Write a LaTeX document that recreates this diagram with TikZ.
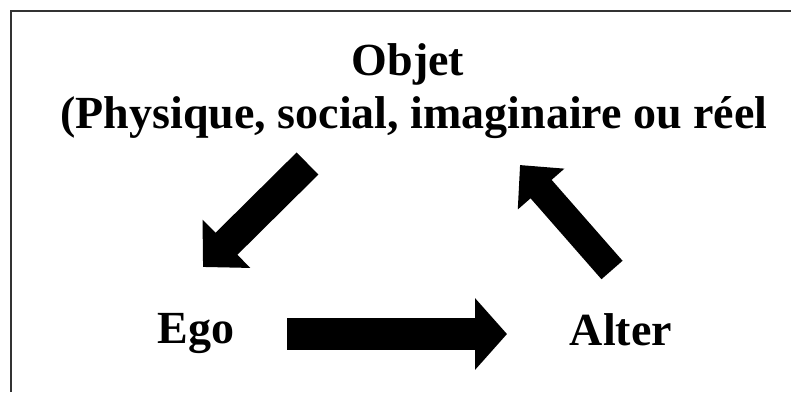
\documentclass[tikz,border=0pt]{standalone}
\usepackage{fontspec}
\setmainfont{Liberation Serif}
\usetikzlibrary{arrows.meta}
\begin{document}
\begin{tikzpicture}[x=1pt,y=-1pt,
  lbl/.style={anchor=base,inner sep=0pt,font=\fontsize{46}{54}\selectfont\bfseries},
  blockarrow/.style={line width=#1,line cap=butt,draw=black}
]
\useasboundingbox (0,0) rectangle (791,392);
\fill[white] (0,0) rectangle (791,392);
\draw[line width=2pt,draw=black!80] (10.5,392) -- (10.5,10.5) -- (791,10.5);
% texts
\node[lbl] (objet) at (408,75) {Objet};
\node[lbl] (desc) at (414,128) {(Physique, social, imaginaire ou réel};
\node[lbl] (ego) at (196,343) {Ego};
\node[lbl] (alter) at (621,345) {Alter};
% arrow end points
\coordinate (a1s) at (307.5,163.5);
\coordinate (a1e) at (203,267);
\coordinate (a2s) at (612,270);
\coordinate (a2e) at (520,165);
\coordinate (a3s) at (287,334);
\coordinate (a3e) at (507,334);
% arrows
\draw[blockarrow=31pt,-{Triangle[length=33pt,width=66pt]}] (a1s) -- (a1e);
\draw[blockarrow=28pt,-{Triangle[length=32pt,width=60pt]}] (a2s) -- (a2e);
\draw[blockarrow=32pt,-{Triangle[length=32pt,width=70pt]}] (a3s) -- (a3e);
\end{tikzpicture}
\end{document}
